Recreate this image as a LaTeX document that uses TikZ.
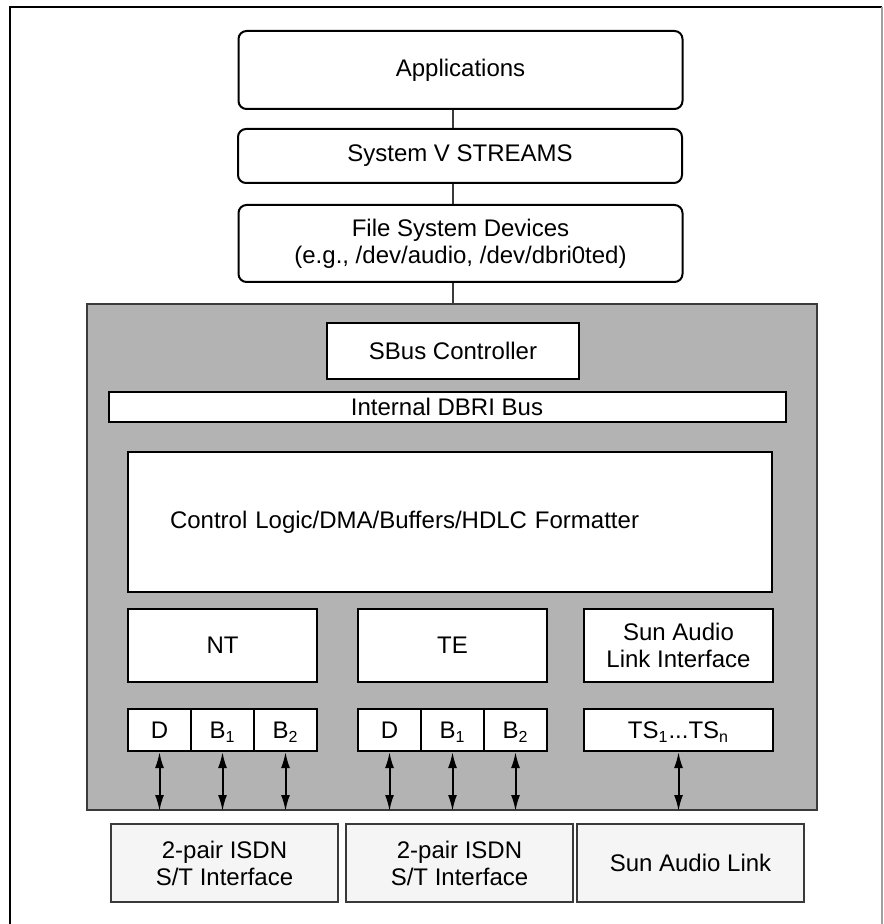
\documentclass[tikz,border=0pt]{standalone}
\usepackage{fontspec}
\setmainfont{Liberation Sans}
\usepackage{tikz}
\usetikzlibrary{arrows.meta}
\definecolor{chipGrey}{HTML}{B3B3B3}
\definecolor{portGrey}{HTML}{F5F5F5}
\definecolor{edgeGrey}{HTML}{3A3A3A}
\definecolor{frameGrey}{HTML}{A0A0A0}

\begin{document}
\begin{tikzpicture} [
    x=0.5pt, y=-0.5pt,
    every node/.style={font=\fontsize{12}{13.5}\selectfont},
    layerNode/.style={rectangle, rounded corners=4pt, draw=black, fill=white, line width=1pt, inner sep=0pt, minimum width=222pt, align=center},
    chipNode/.style={rectangle, draw=edgeGrey, fill=chipGrey, line width=1pt, inner sep=0pt, minimum width=365pt, minimum height=253pt},
    blockNode/.style={rectangle, draw=black, fill=white, line width=1pt, inner sep=0pt, align=center},
    unitNode/.style={blockNode, minimum width=94.5pt, minimum height=36.5pt},
    channelNode/.style={blockNode, minimum width=31.5pt, minimum height=21pt, text height=8.6pt, text depth=0pt},
    portNode/.style={rectangle, draw=edgeGrey, fill=portGrey, line width=1pt, inner sep=0pt, minimum width=113.5pt, minimum height=39pt, align=center},
    link/.style={line width=1pt, draw=edgeGrey},
    dblarrow/.style={line width=1pt, {Latex[length=8pt, width=4.5pt]}-{Latex[length=8pt, width=4.5pt]}}
]
    \useasboundingbox (0,0) rectangle (883,924);
    % page frame, open at the bottom
    \draw[line width=1pt] (10,924) -- (10,7) -- (882,7);
    \draw[line width=1pt, frameGrey] (882,7) -- (882,924);

    % software layers
    \node[layerNode, minimum height=39pt] (apps) at (460.5,70) {Applications};
    \node[layerNode, minimum height=27pt] (streams) at (460,156) {System V STREAMS};
    \node[layerNode, minimum height=38.5pt] (fsdev) at (460.5,243.5) {File System Devices\\(e.g., /dev/audio, /dev/dbri0ted)};

    % DBRI chip
    \node[chipNode] (chip) at (452,557) {};
    \node[blockNode, minimum width=126pt, minimum height=28pt] (sbus) at (453,351) {SBus Controller};
    \node[blockNode, minimum width=338.5pt, minimum height=15pt] (bus) at (447,407) {Internal DBRI Bus};
    \node[blockNode, minimum height=70pt, inner xsep=21pt, text width=280pt, align=left] (ctrl) at (450,522) {Control Logic/DMA/Buffers/HDLC Formatter};
    \node[unitNode] (nt) at (222.5,645.5) {NT};
    \node[unitNode] (te) at (452.5,645.5) {TE};
    \node[unitNode] (sal) at (678.5,645.5) {Sun Audio\\Link Interface};

    \node[channelNode] (ntD) at (159.5,730) {D};
    \node[channelNode] (ntBa) at (222.5,730) {B\textsubscript{1}};
    \node[channelNode] (ntBb) at (285.5,730) {B\textsubscript{2}};
    \node[channelNode] (teD) at (389.5,730) {D};
    \node[channelNode] (teBa) at (452.5,730) {B\textsubscript{1}};
    \node[channelNode] (teBb) at (515.5,730) {B\textsubscript{2}};
    \node[channelNode, minimum width=94.5pt] (ts) at (678.5,730) {TS\textsubscript{1}...TS\textsubscript{n}};

    % external interfaces
    \node[portNode] (isdnA) at (224.5,863) {2-pair ISDN\\S/T Interface};
    \node[portNode] (isdnB) at (459.5,863) {2-pair ISDN\\S/T Interface};
    \node[portNode] (audio) at (690.5,863) {Sun Audio Link};

    \draw[link] (apps.south -| sbus.north) -- (streams.north -| sbus.north);
    \draw[link] (streams.south -| sbus.north) -- (fsdev.north -| sbus.north);
    \draw[link] (fsdev.south -| sbus.north) -- (chip.north -| sbus.north);

    \draw[dblarrow] (ntD.south) -- (ntD.south |- chip.south);
    \draw[dblarrow] (ntBa.south) -- (ntBa.south |- chip.south);
    \draw[dblarrow] (ntBb.south) -- (ntBb.south |- chip.south);
    \draw[dblarrow] (teD.south) -- (teD.south |- chip.south);
    \draw[dblarrow] (teBa.south) -- (teBa.south |- chip.south);
    \draw[dblarrow] (teBb.south) -- (teBb.south |- chip.south);
    \draw[dblarrow] (ts.south) -- (ts.south |- chip.south);
\end{tikzpicture}
\end{document}
